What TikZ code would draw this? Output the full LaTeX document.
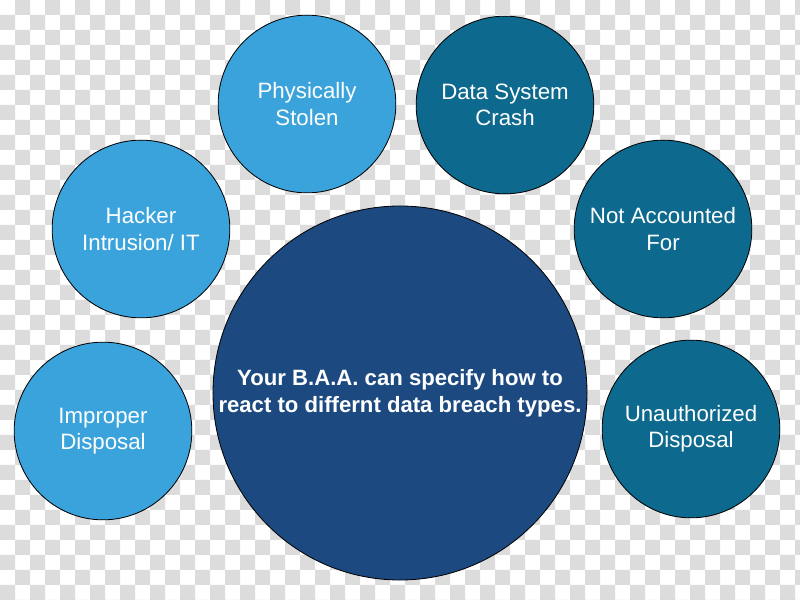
\documentclass[tikz,border=0pt]{standalone}
\usepackage{fontspec}
\setmainfont{Liberation Sans}
\usetikzlibrary{positioning}
\definecolor{checkgray}{RGB}{220,220,220}
\definecolor{lightblue}{RGB}{58,163,220}
\definecolor{tealblue}{RGB}{13,105,141}
\definecolor{navyblue}{RGB}{28,74,128}
\tikzset{
  bubble/.style={circle, draw=black, line width=0.7pt, minimum size=5.33cm, inner sep=0pt,
    align=center, text=white, font=\fontsize{19}{22.5}\selectfont},
  lightbubble/.style={bubble, fill=lightblue},
  tealbubble/.style={bubble, fill=tealblue},
  mainbubble/.style={bubble, fill=navyblue, minimum size=11.22cm,
    font=\fontsize{18.9}{22.8}\selectfont\bfseries}
}
\begin{document}
\begin{tikzpicture}[x=0.03cm, y=-0.03cm]
\clip (0,0) rectangle (800,600);
\fill[white] (0,0) rectangle (800,600);
% checkered background
\fill[checkgray]
  \foreach \i in {1,3,...,53} { \foreach \j in {0,2,...,40} { (\i*15,\j*15) rectangle ++(15,15) } }
  \foreach \i in {0,2,...,52} { \foreach \j in {1,3,...,39} { (\i*15,\j*15) rectangle ++(15,15) } };

\node (baa) at (400,393) [mainbubble] {Your B.A.A. can specify how to\\react to differnt data breach types.};
\node (stolen) at (307,104) [lightbubble] {Physically\\Stolen};
\node (crash) at (505,105) [tealbubble] {Data System\\Crash};
\node (hacker) at (141,229) [lightbubble] {Hacker\\Intrusion/ IT};
\node (unaccounted) at (663,229) [tealbubble] {Not Accounted\\For};
\node (improper) at (103,431) [lightbubble] {Improper\\Disposal};
\node (unauthorized) at (691,429) [tealbubble] {Unauthorized\\Disposal};
\end{tikzpicture}
\end{document}
